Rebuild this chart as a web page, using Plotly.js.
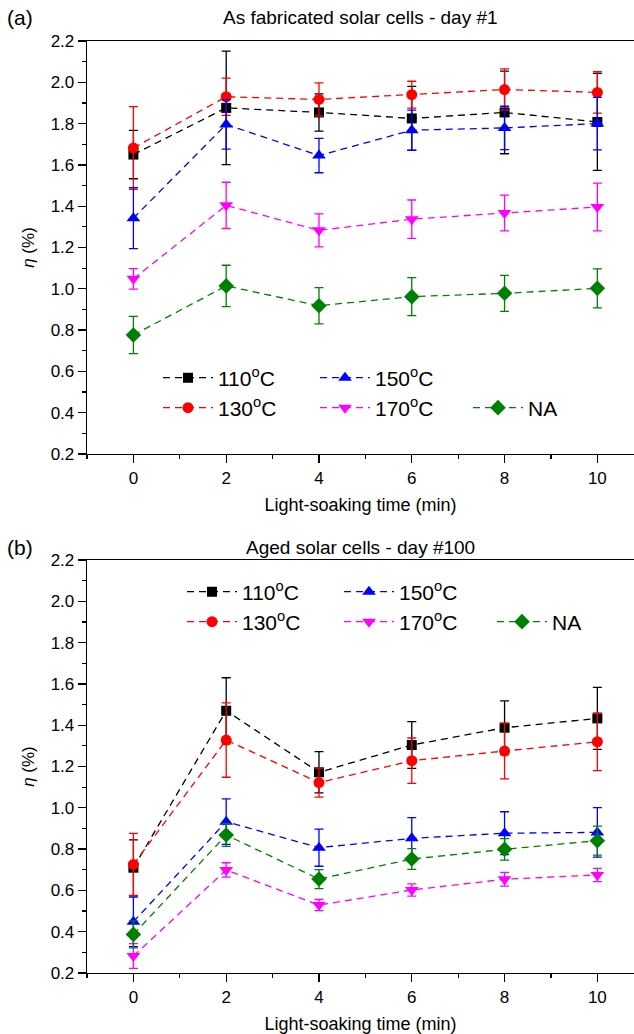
<!DOCTYPE html>
<html>
<head>
<meta charset="utf-8">
<script src="https://cdn.plot.ly/plotly-3.0.1.min.js"></script>
<style>html,body{margin:0;padding:0;background:#fff;}</style>
</head>
<body>
<div id="chart" style="width:634px;height:1034px;"></div>
<script>
// Light-soaking time (min)
const time = [0, 2, 4, 6, 8, 10];
const seriesNames = ['110<sup>o</sup>C', '130<sup>o</sup>C', '150<sup>o</sup>C', '170<sup>o</sup>C', 'NA'];

// (a) As fabricated - day #1 : efficiency (%) and error
const day1_110 = [1.650, 1.876, 1.854, 1.825, 1.854, 1.808];
const day1_110_err = [0.117, 0.275, 0.090, 0.155, 0.200, 0.235];
const day1_130 = [1.682, 1.930, 1.917, 1.940, 1.965, 1.951];
const day1_130_err = [0.200, 0.090, 0.080, 0.065, 0.100, 0.100];
const day1_150 = [1.342, 1.796, 1.645, 1.768, 1.779, 1.800];
const day1_150_err = [0.148, 0.120, 0.083, 0.097, 0.105, 0.127];
const day1_170 = [1.048, 1.404, 1.283, 1.337, 1.367, 1.396];
const day1_170_err = [0.050, 0.112, 0.080, 0.093, 0.087, 0.116];
const day1_NA = [0.776, 1.014, 0.918, 0.962, 0.978, 1.002];
const day1_NA_err = [0.090, 0.100, 0.088, 0.092, 0.087, 0.094];

// (b) Aged - day #100
const day100_110 = [0.710, 1.470, 1.172, 1.304, 1.388, 1.433];
const day100_110_err = [0.135, 0.160, 0.100, 0.113, 0.130, 0.150];
const day100_130 = [0.726, 1.328, 1.122, 1.228, 1.275, 1.320];
const day100_130_err = [0.150, 0.180, 0.070, 0.110, 0.135, 0.140];
const day100_150 = [0.448, 0.933, 0.807, 0.852, 0.877, 0.881];
const day100_150_err = [0.120, 0.110, 0.090, 0.100, 0.104, 0.120];
const day100_170 = [0.282, 0.699, 0.529, 0.602, 0.654, 0.675];
const day100_170_err = [0.060, 0.035, 0.027, 0.030, 0.033, 0.032];
const day100_NA = [0.387, 0.868, 0.655, 0.752, 0.799, 0.841];
const day100_NA_err = [0.065, 0.055, 0.046, 0.050, 0.052, 0.070];

const colors = ['#000000', '#ff0000', '#0000ff', '#ff00ff', '#008000'];
const symbols = ['square', 'circle', 'triangle-up', 'triangle-down', 'diamond'];
const msizes = [10, 11, 12, 12, 12];

const day1 = [[day1_110, day1_110_err], [day1_130, day1_130_err], [day1_150, day1_150_err], [day1_170, day1_170_err], [day1_NA, day1_NA_err]];
const day100 = [[day100_110, day100_110_err], [day100_130, day100_130_err], [day100_150, day100_150_err], [day100_170, day100_170_err], [day100_NA, day100_NA_err]];

// legend slot for each series: [row1 (110,150), row2 (130,170), NA]
const slotOf = [0, 1, 0, 1, 2];

function makeTraces(set, xa, ya, legs) {
  return set.map((d, i) => ({
    x: time, y: d[0],
    xaxis: xa, yaxis: ya,
    type: 'scatter', mode: 'lines+markers',
    name: seriesNames[i],
    legend: legs[slotOf[i]],
    line: {color: colors[i], width: 1.3, dash: '7px,5px'},
    marker: {symbol: symbols[i], size: msizes[i], color: colors[i]},
    error_y: {type: 'data', array: d[1], visible: true, color: colors[i], thickness: 1.3, width: 4.5}
  }));
}

const traces = [].concat(
  makeTraces(day1, 'x', 'y', ['legend', 'legend2', 'legend3']),
  makeTraces(day100, 'x2', 'y2', ['legend4', 'legend5', 'legend6'])
);

const FONT = 'Liberation Sans, Arial, sans-serif';

function xAxis(anchor) {
  return {
    anchor: anchor, domain: [0, 1],
    range: [-1, 10.79], tick0: 0, dtick: 2,
    ticks: 'outside', ticklen: 8, tickwidth: 1.3, tickcolor: '#000',
    minor: {tick0: 0, dtick: 1, ticks: 'outside', ticklen: 4, tickwidth: 1.2, tickcolor: '#000'},
    showline: true, linewidth: 1.3, linecolor: '#000', mirror: true,
    showgrid: false, zeroline: false,
    tickfont: {size: 17, color: '#000'},
    title: {text: 'Light-soaking time (min)', font: {size: 18, color: '#000'}, standoff: 11}
  };
}
function yAxis(domain, anchor) {
  return {
    anchor: anchor, domain: domain,
    range: [0.2, 2.2], tick0: 0.2, dtick: 0.2, tickformat: '.1f',
    ticks: 'outside', ticklen: 8, tickwidth: 1.3, tickcolor: '#000',
    minor: {tick0: 0.2, dtick: 0.1, ticks: 'outside', ticklen: 4, tickwidth: 1.2, tickcolor: '#000'},
    showline: true, linewidth: 1.3, linecolor: '#000', mirror: false,
    showgrid: false, zeroline: false,
    tickfont: {size: 17, color: '#000'},
    title: {text: '<i>η</i> (%)', font: {size: 17, color: '#000'}, standoff: 11}
  };
}

function leg(x, y, ew) {
  const o = {
    orientation: 'h', x: x, y: y, xanchor: 'left', yanchor: 'middle',
    itemwidth: 50,
    font: {size: 21, color: '#000', family: FONT},
    bgcolor: 'rgba(0,0,0,0)', borderwidth: 0, traceorder: 'normal'
  };
  if (ew) { o.entrywidth = ew; o.entrywidthmode = 'pixels'; }
  return o;
}

const layout = {
  width: 634, height: 1034,
  margin: {l: 87, r: 0, t: 41, b: 61, autoexpand: false},
  paper_bgcolor: '#fff', plot_bgcolor: '#fff',
  font: {family: FONT, color: '#000'},
  showlegend: true,
  xaxis: xAxis('y'),
  yaxis: yAxis([0.5569, 1], 'x'),
  xaxis2: xAxis('y2'),
  yaxis2: yAxis([0, 0.4431], 'x2'),
  legend: leg(0.1298, 0.6384, 92),
  legend2: leg(0.1298, 0.6062, 92),
  legend3: leg(0.6965, 0.6062, 0),
  legend4: leg(0.1737, 0.4088, 92),
  legend5: leg(0.1737, 0.3766, 92),
  legend6: leg(0.7404, 0.3766, 0),
  annotations: [
    {text: 'As fabricated solar cells - day #1', xref: 'paper', yref: 'paper', x: 0.5, y: 1.0247, xanchor: 'center', yanchor: 'middle', showarrow: false, font: {size: 19}},
    {text: 'Aged solar cells - day #100', xref: 'paper', yref: 'paper', x: 0.5, y: 0.457, xanchor: 'center', yanchor: 'middle', showarrow: false, font: {size: 19}},
    {text: '(a)', xref: 'paper', yref: 'paper', x: -0.1225, y: 1.0247, xanchor: 'center', yanchor: 'middle', showarrow: false, font: {size: 21}},
    {text: '(b)', xref: 'paper', yref: 'paper', x: -0.1225, y: 0.457, xanchor: 'center', yanchor: 'middle', showarrow: false, font: {size: 21}}
  ]
};

Plotly.newPlot('chart', traces, layout, {displayModeBar: false, staticPlot: true});
</script>
</body>
</html>
